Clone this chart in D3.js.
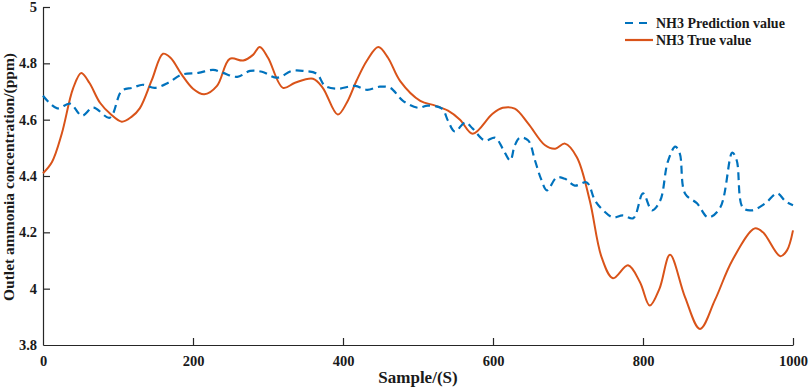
<!DOCTYPE html>
<html>
<head>
<meta charset="utf-8">
<script src="https://cdn.jsdelivr.net/npm/d3@7"></script>
<style>
  body { margin: 0; background: #fff; }
  svg { display: block; }
  .axis text { font-family: "Liberation Serif", "Times New Roman", serif; font-weight: bold; font-size: 14.5px; fill: #1a1a1a; }
  .axis path, .axis line { stroke: #262626; stroke-width: 1.2px; }
</style>
</head>
<body>
<div id="chart"></div>
<script>
// values
var trueX = [0, 12, 25, 40, 51, 62, 76, 90, 105, 118, 129, 145, 160, 170, 185, 200, 215, 232, 249, 267, 280, 289, 300, 320, 336, 360, 373, 393, 405, 418, 432, 447, 460, 476, 503, 523, 540, 556, 573, 599, 613, 629, 647, 669, 683, 696, 712, 729, 745, 760, 780, 796, 809, 822, 836, 856, 876, 896, 919, 949, 960, 983, 992, 1000];
var trueY = [4.41, 4.45, 4.55, 4.71, 4.766, 4.73, 4.66, 4.62, 4.593, 4.61, 4.64, 4.74, 4.834, 4.82, 4.76, 4.71, 4.69, 4.72, 4.816, 4.81, 4.83, 4.858, 4.82, 4.713, 4.731, 4.745, 4.713, 4.618, 4.66, 4.738, 4.81, 4.858, 4.82, 4.738, 4.667, 4.65, 4.632, 4.6, 4.55, 4.62, 4.642, 4.639, 4.586, 4.51, 4.497, 4.515, 4.466, 4.313, 4.11, 4.037, 4.083, 4.023, 3.94, 4.0, 4.12, 3.97, 3.857, 3.96, 4.10, 4.214, 4.20, 4.115, 4.136, 4.207];

var predX = [0, 19, 36, 52, 67, 89, 105, 119, 133, 149, 167, 185, 207, 227, 240, 259, 276, 292, 312, 332, 347, 365, 376, 393, 416, 432, 449, 463, 480, 500, 513, 532, 540, 549, 563, 573, 589, 603, 613, 623, 629, 636, 647, 656, 664, 672, 685, 696, 709, 725, 736, 747, 760, 773, 787, 800, 812, 823, 833, 843, 849, 856, 872, 887, 903, 919, 925, 933, 945, 963, 979, 990, 1000];
var predY = [4.685, 4.64, 4.657, 4.614, 4.643, 4.607, 4.703, 4.713, 4.724, 4.713, 4.731, 4.76, 4.766, 4.777, 4.766, 4.752, 4.773, 4.77, 4.749, 4.773, 4.773, 4.763, 4.72, 4.71, 4.72, 4.706, 4.717, 4.713, 4.667, 4.642, 4.65, 4.639, 4.596, 4.558, 4.59, 4.568, 4.526, 4.536, 4.497, 4.455, 4.508, 4.536, 4.526, 4.455, 4.39, 4.349, 4.395, 4.39, 4.366, 4.377, 4.313, 4.278, 4.253, 4.26, 4.25, 4.338, 4.278, 4.313, 4.45, 4.504, 4.48, 4.338, 4.303, 4.253, 4.288, 4.483, 4.455, 4.288, 4.278, 4.303, 4.338, 4.31, 4.296];

var xTicks = [0, 200, 400, 600, 800, 1000];
var yTicks = [3.8, 4, 4.2, 4.4, 4.6, 4.8, 5];
var seriesNames = ["NH3 Prediction value", "NH3 True value"];
var xLabel = "Sample/(S)";
var yLabel = "Outlet ammonia concentration/(ppm)";

var blue = "#0072BD", orange = "#D95319";

var margin = {top: 7, right: 16, bottom: 44, left: 43},
    width = 809 - margin.left - margin.right,
    height = 389 - margin.top - margin.bottom;

var x = d3.scaleLinear().domain([0, 1000]).range([0, width]);
var y = d3.scaleLinear().domain([3.8, 5]).range([height, 0]);

var svg = d3.select("#chart").append("svg")
    .attr("width", 809)
    .attr("height", 389)
  .append("g")
    .attr("transform", "translate(" + margin.left + "," + margin.top + ")");

var plain = function(d) { return String(d); };
var xAxis = d3.axisBottom(x).tickValues(xTicks).tickSizeInner(-7).tickSizeOuter(0).tickPadding(11).tickFormat(plain);
var yAxis = d3.axisLeft(y).tickValues(yTicks).tickSizeInner(-7).tickSizeOuter(0).tickPadding(6).tickFormat(plain);

var gx = svg.append("g").attr("class", "axis").attr("transform", "translate(0," + height + ")").call(xAxis);
var gy = svg.append("g").attr("class", "axis").call(yAxis);
gx.selectAll(".tick").filter(function(d) { return d === 0; }).select("line").remove();
gy.selectAll(".tick").filter(function(d) { return d === 3.8; }).select("line").remove();

var line = d3.line()
    .x(function(d) { return x(d[0]); })
    .y(function(d) { return y(d[1]); })
    .curve(d3.curveCatmullRom.alpha(0.5));

svg.append("path")
    .datum(trueX.map(function(v, i) { return [v, trueY[i]]; }))
    .attr("d", line)
    .attr("fill", "none")
    .attr("stroke", orange)
    .attr("stroke-width", 2);

svg.append("path")
    .datum(predX.map(function(v, i) { return [v, predY[i]]; }))
    .attr("d", line)
    .attr("fill", "none")
    .attr("stroke", blue)
    .attr("stroke-width", 2.2)
    .attr("stroke-dasharray", "8,5");

// legend
var legend = svg.append("g").attr("transform", "translate(582,16)");
var colors = [blue, orange];
seriesNames.forEach(function(name, i) {
  var row = legend.append("g").attr("transform", "translate(0," + (i * 17) + ")");
  row.append("line")
      .attr("x1", 0).attr("x2", 28).attr("y1", 0).attr("y2", 0)
      .attr("stroke", colors[i])
      .attr("stroke-width", 2.2)
      .attr("stroke-dasharray", i === 0 ? "8,6" : null);
  row.append("text")
      .attr("x", 31).attr("y", 5)
      .style("font-family", "'Liberation Serif', 'Times New Roman', serif")
      .style("font-weight", "bold")
      .style("font-size", "14px")
      .style("fill", "#1a1a1a")
      .text(name);
});

svg.append("text")
    .attr("x", width / 2)
    .attr("y", height + 38)
    .attr("text-anchor", "middle")
    .style("font-family", "'Liberation Serif', 'Times New Roman', serif")
    .style("font-weight", "bold")
    .style("font-size", "17px")
    .style("fill", "#1a1a1a")
    .text(xLabel);

svg.append("text")
    .attr("transform", "translate(" + (-29) + "," + (height / 2 + 1) + ") rotate(-90)")
    .attr("text-anchor", "middle")
    .style("font-family", "'Liberation Serif', 'Times New Roman', serif")
    .style("font-weight", "bold")
    .style("font-size", "15.5px")
    .style("fill", "#1a1a1a")
    .text(yLabel);
</script>
</body>
</html>
